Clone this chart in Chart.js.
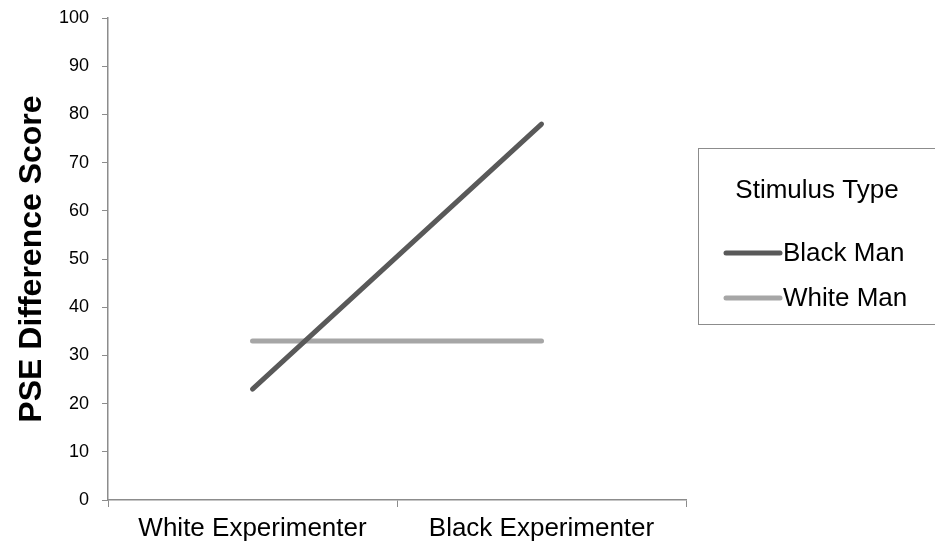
<!DOCTYPE html>
<html><head><meta charset="utf-8">
<script src="https://cdn.jsdelivr.net/npm/chart.js@4"></script>
<style>html,body{margin:0;padding:0;background:#fff;}#wrap{width:935px;height:548px;position:relative;}</style>
</head><body><div id="wrap"><canvas id="c" width="935" height="548"></canvas></div>
<script>
const categories = ["White Experimenter", "Black Experimenter"];
const blackMan = [23, 78];
const whiteMan = [33, 33];
const seriesNames = ["Black Man", "White Man"];
const legendTitle = "Stimulus Type";
const yTitle = "PSE Difference Score";

const FONT = "'Liberation Sans', Arial, sans-serif";

const legendPlugin = {
  id: 'boxLegend',
  afterDraw(chart) {
    const ctx = chart.ctx;
    ctx.save();
    ctx.strokeStyle = '#8c8c8c';
    ctx.lineWidth = 1;
    ctx.strokeRect(698.5, 148.5, 250, 176);
    ctx.fillStyle = '#000';
    ctx.font = '26px ' + FONT;
    ctx.textAlign = 'center';
    ctx.textBaseline = 'middle';
    ctx.fillText(legendTitle, 817, 191);
    const ys = [253, 298];
    chart.data.datasets.forEach((ds, i) => {
      ctx.strokeStyle = ds.borderColor;
      ctx.lineWidth = 5;
      ctx.lineCap = 'round';
      ctx.beginPath();
      ctx.moveTo(726, ys[i]);
      ctx.lineTo(780, ys[i]);
      ctx.stroke();
      ctx.fillStyle = '#000';
      ctx.font = '26px ' + FONT;
      ctx.textAlign = 'left';
      ctx.fillText(ds.label, 783, ys[i] + 1);
    });
    ctx.restore();
  }
};

new Chart(document.getElementById('c'), {
  type: 'line',
  data: {
    labels: categories,
    datasets: [
      { label: seriesNames[0], data: blackMan, borderColor: '#595959', backgroundColor: '#595959', borderWidth: 5, pointRadius: 0, borderCapStyle: 'round' },
      { label: seriesNames[1], data: whiteMan, borderColor: '#a6a6a6', backgroundColor: '#a6a6a6', borderWidth: 5, pointRadius: 0, borderCapStyle: 'round' }
    ]
  },
  options: {
    responsive: false,
    animation: false,
    layout: { padding: { left: 0, top: 18, right: 249, bottom: 0 } },
    plugins: { legend: { display: false }, tooltip: { enabled: false } },
    scales: {
      x: {
        offset: true,
        grid: { offset: true, drawOnChartArea: false, tickLength: 7, color: '#8c8c8c' },
        border: { color: '#8c8c8c', width: 1.5 },
        ticks: { color: '#000', font: { family: FONT, size: 26 }, padding: 6, maxRotation: 0 },
        afterFit(s) { s.height = 48; s.paddingLeft = 0; s.paddingRight = 0; }
      },
      y: {
        min: 0, max: 100,
        grid: { drawOnChartArea: false, tickLength: 6, color: '#8c8c8c' },
        border: { color: '#8c8c8c', width: 1.5 },
        ticks: { stepSize: 10, color: '#000', font: { family: FONT, size: 18 }, padding: 13 },
        title: { display: true, text: yTitle, color: '#000', font: { family: FONT, size: 32, weight: 'bold' }, padding: { top: 13, bottom: 0 } },
        afterFit(s) { s.width = 108; s.paddingTop = 0; s.paddingBottom = 0; }
      }
    }
  },
  plugins: [legendPlugin]
});
</script></body></html>
